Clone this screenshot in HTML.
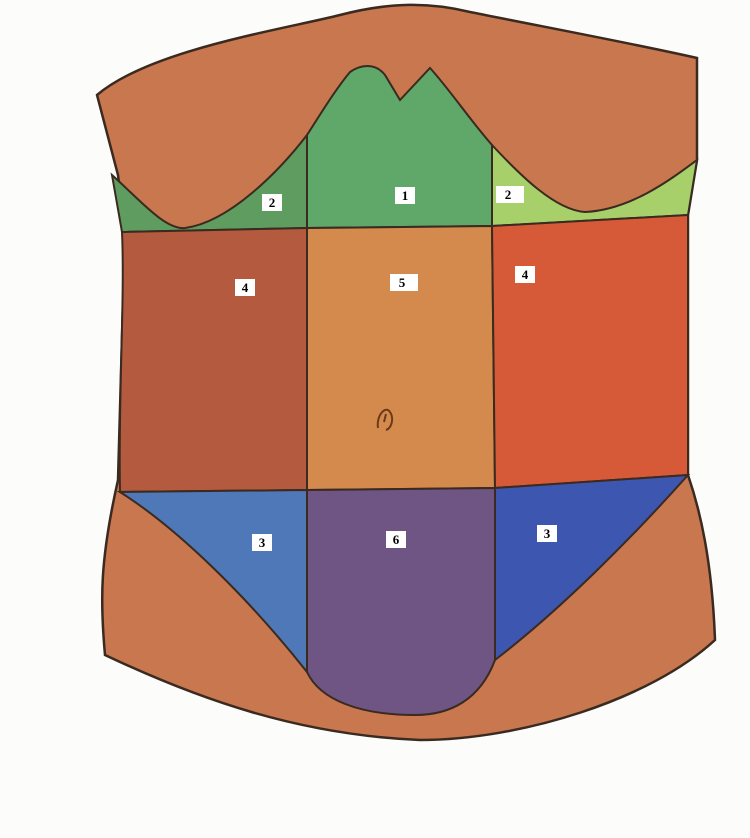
<!DOCTYPE html>
<html><head><meta charset="utf-8"><style>
html,body{margin:0;padding:0;background:#fdfdfb;}
svg{display:block}
text{font-family:"Liberation Serif",serif;font-weight:bold;font-size:13px}
</style></head><body>
<svg width="750" height="838" viewBox="0 0 750 838">
<rect x="0" y="0" width="750" height="838" fill="#fcfcfa"/>
<!-- whole torso base -->
<path d="M97,95 C150,50 280,30 340,15 C390,2 430,2 470,12 C560,30 640,45 697,58 L697,160 L688,215 L688,475 C700,510 712,560 715,640 C650,700 520,740 420,740 C300,735 200,700 105,655 C100,600 100,560 118,480 L125,230 L118,175 Z" fill="#c8774f" stroke="#3a2a20" stroke-width="2.5"/>
<!-- left green 2 -->
<path d="M112,175 C140,200 165,230 185,228 C230,222 280,170 307,135 L307,228 L122,232 Z" fill="#5f9c60" stroke="#3a2a20" stroke-width="2"/>
<!-- central green 1 -->
<path d="M307,135 L307,228 L492,226 L492,145 C470,120 450,90 430,68 L400,100 L385,75 C375,62 360,65 350,72 C335,90 320,115 307,135 Z" fill="#5fa86a" stroke="#3a2a20" stroke-width="2"/>
<!-- right green 2 -->
<path d="M492,145 C520,175 555,210 585,212 C630,210 670,180 697,160 L688,215 L492,226 Z" fill="#a8d06a" stroke="#3a2a20" stroke-width="2"/>
<!-- middle row -->
<path d="M122,232 L307,228 L307,490 L120,492 C118,400 125,300 122,232 Z" fill="#b45a3f" stroke="#3a2a20" stroke-width="2"/>
<path d="M307,228 L492,226 L495,488 L307,490 Z" fill="#d48a4c" stroke="#3a2a20" stroke-width="2"/>
<path d="M492,226 L688,215 L688,475 L495,488 Z" fill="#d65a38" stroke="#3a2a20" stroke-width="2"/>
<!-- bottom row -->
<path d="M120,492 L307,490 L307,672 C250,600 180,530 120,492 Z" fill="#4f78b8" stroke="#3a2a20" stroke-width="2"/>
<path d="M307,490 L495,488 L495,660 C480,700 450,715 415,715 C360,715 320,700 307,672 Z" fill="#6e5584" stroke="#3a2a20" stroke-width="2"/>
<path d="M495,488 L688,475 C630,540 560,610 495,660 Z" fill="#3d56b0" stroke="#3a2a20" stroke-width="2"/>
<!-- navel -->
<path d="M378,428 C376,415 386,405 390,412 C394,418 392,428 386,430 M384,422 L386,414" fill="none" stroke="#6a3a1a" stroke-width="2"/>
<!-- labels -->
<g><rect x="395" y="187" width="20" height="17" fill="#fff"/><text x="405" y="200" text-anchor="middle">1</text></g>
<g><rect x="262" y="194" width="20" height="17" fill="#fff"/><text x="272" y="207" text-anchor="middle">2</text></g>
<g><rect x="496" y="186" width="28" height="17" fill="#fff"/><text x="508" y="199" text-anchor="middle">2</text></g>
<g><rect x="235" y="279" width="20" height="17" fill="#fff"/><text x="245" y="292" text-anchor="middle">4</text></g>
<g><rect x="390" y="274" width="28" height="17" fill="#fff"/><text x="402" y="287" text-anchor="middle">5</text></g>
<g><rect x="515" y="266" width="20" height="17" fill="#fff"/><text x="525" y="279" text-anchor="middle">4</text></g>
<g><rect x="252" y="534" width="20" height="17" fill="#fff"/><text x="262" y="547" text-anchor="middle">3</text></g>
<g><rect x="386" y="531" width="20" height="17" fill="#fff"/><text x="396" y="544" text-anchor="middle">6</text></g>
<g><rect x="537" y="525" width="20" height="17" fill="#fff"/><text x="547" y="538" text-anchor="middle">3</text></g>
</svg>
</body></html>
